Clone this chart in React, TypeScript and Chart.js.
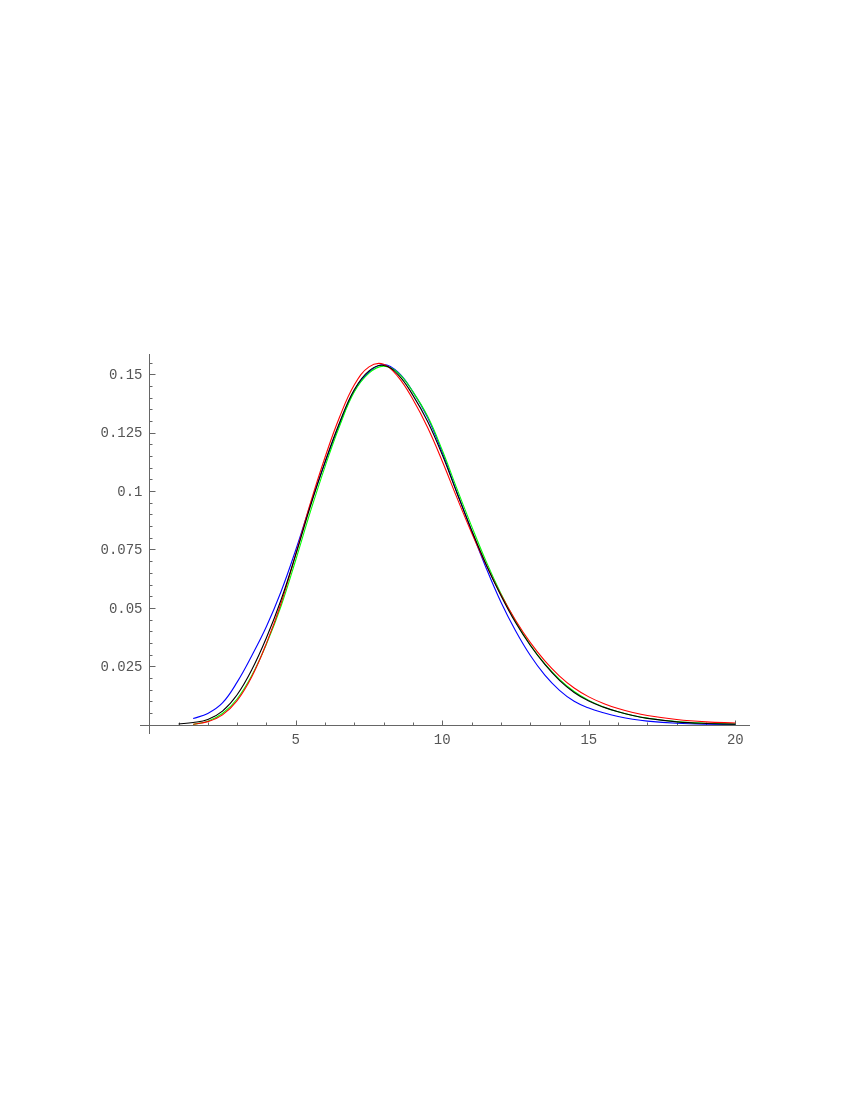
import React, { useEffect, useRef } from "react";
import { Chart, registerables } from "chart.js";

Chart.register(...registerables);

// ---- Data ----
const xBlack = [1, 1.5, 2, 2.5, 3, 3.5, 4, 4.5, 5, 5.5, 6, 6.5, 7, 7.5, 8, 8.5, 9, 9.5, 10, 10.5, 11, 11.5, 12, 12.5, 13, 13.5, 14, 14.5, 15, 15.5, 16, 16.5, 17, 18, 19, 20];
const yBlack = [0.0003, 0.0009, 0.0022, 0.0058, 0.0128, 0.0235, 0.0372, 0.0535, 0.0728, 0.0935, 0.1125, 0.1295, 0.1435, 0.1515, 0.1538, 0.1498, 0.141, 0.1298, 0.1155, 0.0992, 0.0833, 0.0685, 0.0553, 0.0437, 0.034, 0.0258, 0.019, 0.0138, 0.0101, 0.0075, 0.0055, 0.0039, 0.0027, 0.0012, 0.0005, 0.0002];

const xOther = [1.5, 2, 2.5, 3, 3.5, 4, 4.5, 5, 5.5, 6, 6.5, 7, 7.5, 8, 8.5, 9, 9.5, 10, 10.5, 11, 11.5, 12, 12.5, 13, 13.5, 14, 14.5, 15, 15.5, 16, 16.5, 17, 18, 19, 20];
const yRed = [0.0002, 0.0013, 0.0042, 0.0103, 0.0205, 0.0348, 0.052, 0.073, 0.0948, 0.1145, 0.1318, 0.1455, 0.1532, 0.1543, 0.1488, 0.1392, 0.1272, 0.1128, 0.0972, 0.0822, 0.0683, 0.0557, 0.0447, 0.0352, 0.0273, 0.0208, 0.0157, 0.0119, 0.0091, 0.0069, 0.0052, 0.0039, 0.0022, 0.0012, 0.0007];
const yGreen = [0.0001, 0.0015, 0.0048, 0.011, 0.021, 0.0345, 0.0508, 0.0705, 0.0912, 0.1105, 0.128, 0.1425, 0.1505, 0.1535, 0.1505, 0.1425, 0.132, 0.1175, 0.101, 0.085, 0.0698, 0.0562, 0.0443, 0.0342, 0.026, 0.0194, 0.0142, 0.0104, 0.0076, 0.0055, 0.0039, 0.0028, 0.0013, 0.0006, 0.0003];
const yBlue = [0.0026, 0.0048, 0.0093, 0.0182, 0.0295, 0.042, 0.057, 0.0748, 0.0942, 0.1122, 0.1288, 0.143, 0.151, 0.1542, 0.1508, 0.1425, 0.1315, 0.1165, 0.0995, 0.083, 0.067, 0.0525, 0.0402, 0.0297, 0.0212, 0.0147, 0.01, 0.0071, 0.0051, 0.0035, 0.0023, 0.0015, 0.0006, 0.0002, 0.0001];

const xTickValues = [5, 10, 15, 20];
const xTickLabels = ["5", "10", "15", "20"];
const yTickValues = [0.025, 0.05, 0.075, 0.1, 0.125, 0.15];
const yTickLabels = ["0.025", "0.05", "0.075", "0.1", "0.125", "0.15"];

const toPoints = (xs: number[], ys: number[]) => xs.map((x, i) => ({ x, y: ys[i] }));

const axesPlugin = {
  id: "mmaAxes",
  beforeDatasetsDraw(chart: any) {
    const { ctx, chartArea } = chart;
    const xs = chart.scales.x;
    const ys = chart.scales.y;
    const x0 = Math.round(xs.getPixelForValue(0)) + 0.5;
    const y0 = Math.round(ys.getPixelForValue(0)) + 0.5;
    ctx.save();
    ctx.strokeStyle = "#666";
    ctx.lineWidth = 1;
    ctx.beginPath();
    ctx.moveTo(chartArea.left, y0);
    ctx.lineTo(chartArea.right, y0);
    ctx.moveTo(x0, chartArea.top);
    ctx.lineTo(x0, chartArea.bottom);
    ctx.stroke();

    ctx.beginPath();
    for (let v = 1; v <= 20; v++) {
      const px = Math.round(xs.getPixelForValue(v)) + 0.5;
      const len = xTickValues.includes(v) ? 5 : 3;
      ctx.moveTo(px, y0);
      ctx.lineTo(px, y0 - len);
    }
    for (let k = 1; k <= 31; k++) {
      const v = k * 0.005;
      const py = Math.round(ys.getPixelForValue(v)) + 0.5;
      const len = k % 5 === 0 ? 6 : 3;
      ctx.moveTo(x0, py);
      ctx.lineTo(x0 + len, py);
    }
    ctx.stroke();

    ctx.fillStyle = "#555";
    ctx.font = '14px "Liberation Mono", monospace';
    ctx.textAlign = "center";
    ctx.textBaseline = "top";
    xTickValues.forEach((v, i) => {
      ctx.fillText(xTickLabels[i], xs.getPixelForValue(v), y0 + 8);
    });
    ctx.textAlign = "right";
    ctx.textBaseline = "middle";
    yTickValues.forEach((v, i) => {
      ctx.fillText(yTickLabels[i], x0 - 7, ys.getPixelForValue(v) + 1);
    });
    ctx.restore();
  },
};

export default function App() {
  const ref = useRef<HTMLCanvasElement | null>(null);
  useEffect(() => {
    if (!ref.current) return;
    const line = (data: any[], color: string) => ({
      data,
      borderColor: color,
      backgroundColor: color,
      borderWidth: 1.1,
      pointRadius: 0,
      fill: false,
      tension: 0.4,
    });
    const chart = new Chart(ref.current, {
      type: "line",
      data: {
        datasets: [
          line(toPoints(xBlack, yBlack), "#000000"),
          line(toPoints(xOther, yRed), "#ff0000"),
          line(toPoints(xOther, yGreen), "#00ff00"),
          line(toPoints(xOther, yBlue), "#0000ff"),
        ],
      },
      options: {
        animation: false,
        responsive: false,
        events: [],
        layout: { padding: { left: 140, right: 100, top: 354, bottom: 366 } },
        plugins: { legend: { display: false }, tooltip: { enabled: false } },
        scales: {
          x: { type: "linear", min: -0.314, max: 20.5, display: false },
          y: { type: "linear", min: -0.004, max: 0.1587, display: false },
        },
      },
      plugins: [axesPlugin],
    });
    return () => chart.destroy();
  }, []);
  return (
    <div style={{ position: "absolute", left: 0, top: 0, width: 850, height: 1100, background: "#fff" }}>
      <canvas ref={ref} width={850} height={1100} style={{ display: "block" }} />
    </div>
  );
}
